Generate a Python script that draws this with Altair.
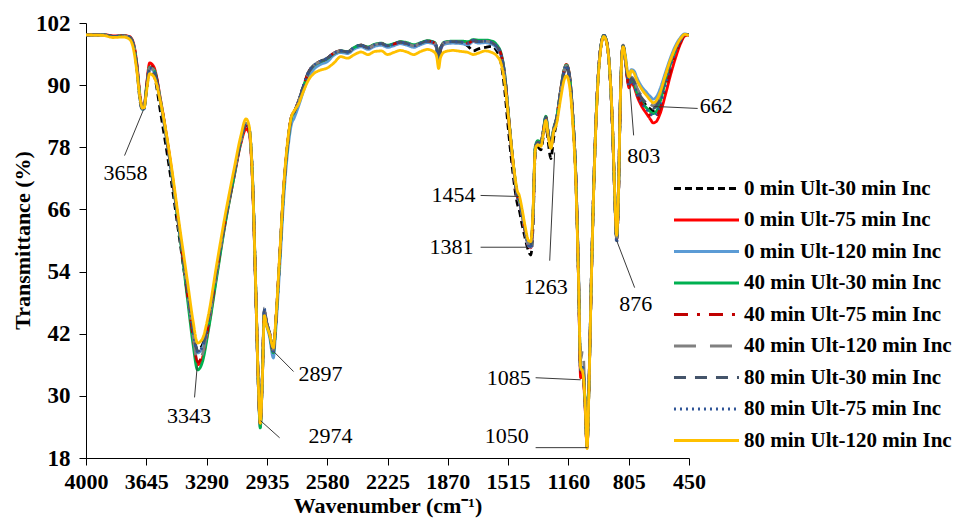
import altair as alt
import pandas as pd

wavenumber = [
    4000, 3900, 3840, 3780, 3745, 3722, 3700, 3682, 3668, 3658,
    3645, 3625, 3600, 3560, 3500, 3450, 3400, 3370, 3343, 3315,
    3280, 3230, 3180, 3130, 3090, 3058, 3040, 3020, 3000, 2985,
    2974, 2962, 2950, 2938, 2920, 2897, 2883, 2860, 2835, 2810,
    2790, 2775, 2750, 2720, 2690, 2660, 2620, 2580, 2540, 2500,
    2460, 2420, 2380, 2340, 2300, 2260, 2225, 2190, 2150, 2110,
    2070, 2030, 1990, 1950, 1935, 1924, 1913, 1890, 1840, 1790,
    1750, 1720, 1690, 1650, 1610, 1580, 1555, 1535, 1515, 1495,
    1475, 1460, 1450, 1435, 1415, 1395, 1381, 1368, 1355, 1340,
    1322, 1308, 1293, 1278, 1263, 1248, 1230, 1205, 1185, 1172,
    1155, 1135, 1115, 1100, 1088, 1075, 1062, 1050, 1040, 1025,
    1005, 985, 965, 951, 935, 915, 900, 888, 876, 866,
    855, 845, 838, 825, 812, 803, 790, 775, 755, 730,
    700, 675, 662, 645, 620, 590, 560, 530, 500, 475,
    450,
]

t_0ult_30inc = [
    99.7, 99.7, 99.4, 99.5, 99.3, 98.0, 93.0, 87.0, 85.2, 85.5,
    88.5, 93.0, 92.0, 84.5, 72.0, 60.5, 49.0, 42.5, 38.8, 39.8,
    44.5, 54.5, 64.0, 72.5, 79.0, 82.5, 81.5, 72.0, 49.5, 32.0,
    24.8, 33.5, 46.5, 44.3, 42.3, 38.6, 44.0, 56.5, 70.5, 79.5,
    83.8, 84.6, 86.8, 89.8, 92.5, 93.8, 94.6, 95.2, 96.2, 96.6,
    96.4, 97.3, 97.7, 97.2, 97.8, 98.0, 97.6, 97.9, 98.3, 98.0,
    97.6, 98.1, 98.5, 98.2, 97.2, 94.6, 97.0, 98.2, 98.4, 98.2,
    97.5, 96.6, 97.0, 97.3, 97.5, 96.5, 94.0, 89.0, 82.0, 75.5,
    70.0, 67.0, 66.0, 63.5, 60.5, 58.0, 57.2, 63.0, 77.0, 78.0,
    77.5, 80.0, 83.0, 78.8, 75.8, 79.5, 82.8, 88.5, 92.5, 93.3,
    91.5, 84.0, 70.5, 52.0, 34.8, 35.0, 28.5, 20.0, 30.5, 52.5,
    76.5, 91.5, 98.3, 99.6, 98.4, 92.0, 81.5, 69.5, 60.0, 67.5,
    86.0, 95.8, 97.5, 95.0, 91.3, 90.0, 91.0, 90.5, 88.8, 87.3,
    86.0, 85.3, 85.0, 85.3, 87.3, 90.8, 94.2, 96.8, 98.7, 99.8,
    99.7,
]

t_0ult_75inc = [
    99.8, 99.8, 99.5, 99.6, 99.4, 98.3, 94.0, 88.0, 85.6, 85.8,
    89.5, 94.3, 93.5, 87.0, 74.5, 62.0, 49.5, 41.5, 36.0, 37.3,
    43.0, 53.5, 63.5, 72.0, 78.5, 81.5, 80.8, 71.5, 49.5, 31.5,
    24.5, 33.0, 46.0, 44.0, 42.0, 38.6, 44.0, 56.5, 70.5, 79.5,
    84.0, 84.8, 86.8, 89.6, 92.3, 93.6, 94.4, 95.0, 96.0, 96.5,
    96.3, 97.2, 97.6, 97.1, 97.7, 97.9, 97.5, 97.8, 98.2, 97.9,
    97.5, 98.0, 98.4, 98.1, 97.0, 94.5, 96.8, 98.0, 98.3, 98.2,
    98.0, 98.5, 98.3, 98.4, 98.1, 97.3, 95.6, 91.8, 84.8, 77.8,
    71.8, 68.3, 67.5, 65.3, 61.8, 59.0, 58.6, 65.0, 77.8, 79.0,
    78.8, 81.0, 83.8, 80.5, 78.0, 81.2, 83.5, 89.2, 93.0, 94.0,
    92.3, 84.5, 71.0, 52.0, 33.5, 34.0, 28.0, 20.0, 30.5, 52.5,
    76.5, 91.5, 98.3, 99.6, 98.4, 92.0, 81.5, 69.5, 60.3, 67.5,
    86.0, 95.8, 97.7, 94.8, 91.0, 89.5, 90.5, 89.8, 87.8, 86.0,
    84.5, 83.3, 82.7, 82.9, 84.5, 88.0, 91.8, 95.2, 98.0, 99.5,
    99.7,
]

t_0ult_120inc = [
    99.7, 99.7, 99.4, 99.5, 99.3, 98.0, 93.3, 87.3, 85.3, 85.5,
    89.0, 93.2, 92.6, 86.3, 74.0, 62.0, 50.0, 42.8, 38.3, 39.2,
    44.3, 54.3, 64.0, 72.5, 79.0, 82.6, 81.7, 72.0, 49.5, 31.5,
    24.0, 33.0, 46.5, 43.8, 41.5, 37.3, 42.5, 54.5, 68.5, 78.0,
    82.5, 83.6, 85.8, 88.8, 91.5, 93.0, 94.0, 94.5, 95.8, 96.3,
    96.1, 97.0, 97.4, 96.9, 97.5, 97.7, 97.3, 97.6, 98.0, 97.7,
    97.3, 97.8, 98.2, 97.9, 96.9, 94.4, 96.7, 97.9, 98.1, 98.0,
    97.8, 98.4, 98.1, 98.2, 97.9, 97.1, 95.5, 91.7, 84.8, 77.8,
    71.8, 68.3, 67.6, 65.3, 61.8, 59.0, 58.7, 65.0, 77.8, 79.0,
    78.7, 81.0, 83.8, 80.5, 78.0, 81.2, 83.4, 89.0, 92.8, 93.8,
    92.0, 84.5, 71.0, 52.5, 35.0, 35.3, 29.0, 20.2, 30.5, 52.5,
    76.5, 91.5, 98.3, 99.6, 98.4, 92.0, 81.5, 69.5, 60.5, 67.8,
    86.2, 95.8, 97.7, 95.8, 92.6, 91.5, 93.0, 92.8, 91.3, 89.8,
    88.6, 87.7, 87.3, 87.6, 89.3, 92.3, 95.2, 97.6, 99.2, 99.9,
    99.7,
]

t_40ult_30inc = [
    99.7, 99.7, 99.4, 99.5, 99.3, 98.0, 93.5, 87.6, 85.4, 85.6,
    89.2, 93.5, 93.0, 86.8, 74.0, 61.5, 48.0, 40.0, 35.0, 36.5,
    42.5, 53.0, 63.3, 72.0, 78.8, 82.5, 81.6, 72.3, 50.0, 31.5,
    23.8, 33.2, 46.0, 44.0, 42.0, 38.3, 43.8, 56.3, 70.3, 79.3,
    83.8, 84.7, 86.7, 89.7, 92.4, 93.7, 94.5, 95.1, 96.1, 96.6,
    96.5, 97.3, 97.7, 97.4, 97.9, 98.1, 97.7, 98.0, 98.4, 98.2,
    97.8, 98.2, 98.6, 98.3, 97.3, 94.7, 97.1, 98.3, 98.5, 98.5,
    98.4, 98.8, 98.7, 98.7, 98.5, 97.7, 96.0, 92.2, 85.2, 78.2,
    72.2, 68.8, 68.0, 65.8, 62.2, 59.5, 59.2, 65.5, 78.2, 79.3,
    79.0, 81.3, 84.0, 80.8, 78.5, 81.5, 83.7, 89.2, 93.0, 93.9,
    92.2, 84.6, 71.2, 52.5, 35.0, 35.5, 29.0, 20.2, 30.5, 52.5,
    76.5, 91.5, 98.3, 99.6, 98.4, 92.0, 81.5, 69.5, 60.4, 67.5,
    86.0, 95.8, 97.6, 95.2, 91.6, 90.3, 91.2, 90.5, 88.4, 86.8,
    85.6, 84.8, 84.5, 84.8, 86.8, 90.5, 94.0, 96.7, 98.7, 99.8,
    99.7,
]

t_40ult_75inc = [
    99.7, 99.7, 99.4, 99.5, 99.3, 98.1, 93.7, 87.7, 85.5, 85.7,
    89.3, 93.8, 93.2, 86.8, 74.2, 61.8, 49.0, 41.5, 36.5, 37.8,
    43.5, 54.0, 63.8, 72.3, 78.8, 82.2, 81.3, 72.0, 49.8, 31.8,
    24.5, 33.3, 46.3, 44.2, 42.2, 38.6, 44.0, 56.5, 70.5, 79.5,
    84.0, 84.8, 86.8, 89.8, 92.5, 93.8, 94.6, 95.2, 96.2, 96.6,
    96.4, 97.3, 97.7, 97.2, 97.8, 98.0, 97.6, 97.9, 98.3, 98.0,
    97.6, 98.1, 98.5, 98.2, 97.2, 94.6, 97.0, 98.2, 98.4, 98.3,
    98.1, 98.6, 98.4, 98.5, 98.2, 97.4, 95.8, 92.0, 85.0, 78.0,
    72.0, 68.5, 67.8, 65.5, 62.0, 59.2, 58.8, 65.0, 77.8, 79.0,
    78.8, 81.0, 83.8, 80.5, 78.0, 81.2, 83.5, 89.0, 92.8, 93.8,
    92.0, 84.5, 71.0, 52.2, 34.5, 35.0, 28.5, 20.0, 30.5, 52.5,
    76.5, 91.5, 98.3, 99.6, 98.4, 92.0, 81.5, 69.5, 60.2, 67.5,
    86.0, 95.8, 97.6, 94.9, 91.2, 89.8, 90.8, 90.2, 88.3, 86.5,
    85.2, 84.0, 83.5, 83.7, 85.5, 89.0, 92.5, 95.8, 98.3, 99.6,
    99.7,
]

t_40ult_120inc = [
    99.7, 99.7, 99.4, 99.5, 99.3, 98.0, 93.4, 87.5, 85.4, 85.6,
    89.0, 93.4, 92.9, 86.6, 74.2, 62.0, 49.5, 41.8, 36.7, 38.0,
    43.8, 54.0, 64.0, 72.5, 79.0, 82.6, 81.7, 72.3, 50.0, 32.0,
    24.6, 33.5, 46.5, 44.3, 42.3, 38.6, 44.0, 56.5, 70.5, 79.5,
    84.0, 84.8, 86.8, 89.8, 92.5, 93.8, 94.6, 95.2, 96.2, 96.6,
    96.4, 97.3, 97.7, 97.2, 97.8, 98.0, 97.6, 97.9, 98.3, 98.0,
    97.6, 98.1, 98.5, 98.2, 97.2, 94.6, 97.0, 98.2, 98.4, 98.3,
    98.1, 98.6, 98.4, 98.5, 98.2, 97.4, 95.8, 92.0, 85.0, 78.0,
    72.0, 68.5, 67.8, 65.5, 62.0, 59.3, 59.0, 65.2, 77.8, 79.0,
    78.8, 81.0, 83.8, 80.5, 78.0, 81.2, 83.5, 89.0, 92.8, 93.8,
    92.0, 84.5, 71.5, 54.0, 37.0, 39.0, 30.0, 20.3, 30.5, 52.5,
    76.5, 91.5, 98.3, 99.6, 98.4, 92.0, 81.5, 69.5, 60.4, 67.5,
    86.0, 95.8, 97.6, 95.0, 91.7, 90.5, 91.6, 91.1, 89.4, 88.0,
    86.9, 86.3, 86.0, 86.3, 88.2, 91.5, 94.6, 97.0, 98.8, 99.8,
    99.7,
]

t_80ult_30inc = [
    99.7, 99.7, 99.4, 99.5, 99.3, 98.0, 93.5, 87.5, 85.3, 85.5,
    89.0, 93.3, 92.8, 86.5, 74.0, 62.0, 50.0, 42.8, 38.6, 39.5,
    44.5, 54.5, 64.0, 72.5, 79.0, 82.7, 81.8, 72.5, 50.0, 32.0,
    24.6, 33.5, 47.0, 44.5, 42.3, 38.6, 44.0, 56.5, 70.5, 79.5,
    84.0, 84.8, 86.8, 89.8, 92.5, 93.8, 94.6, 95.2, 96.2, 96.6,
    96.4, 97.3, 97.7, 97.2, 97.8, 98.0, 97.6, 97.9, 98.3, 98.0,
    97.6, 98.1, 98.5, 98.2, 97.2, 94.6, 97.0, 98.2, 98.4, 98.3,
    98.1, 98.7, 98.4, 98.5, 98.2, 97.4, 95.8, 92.0, 85.0, 78.0,
    72.0, 68.5, 67.8, 65.5, 62.0, 59.2, 58.8, 65.0, 77.8, 79.0,
    78.8, 81.0, 83.8, 80.5, 78.0, 81.2, 83.5, 89.0, 92.8, 93.8,
    92.0, 84.5, 71.0, 52.5, 35.0, 35.5, 29.0, 20.2, 30.5, 52.5,
    76.5, 91.5, 98.3, 99.6, 98.4, 92.0, 81.5, 69.5, 60.2, 67.5,
    86.0, 95.8, 97.6, 95.0, 91.5, 90.2, 91.3, 90.8, 89.0, 87.6,
    86.5, 85.8, 85.5, 85.8, 87.8, 91.2, 94.5, 97.0, 98.8, 99.8,
    99.7,
]

t_80ult_75inc = [
    99.7, 99.7, 99.4, 99.5, 99.3, 98.0, 93.4, 87.4, 85.2, 85.4,
    89.0, 93.3, 92.7, 86.4, 74.0, 62.0, 50.0, 42.7, 38.5, 39.4,
    44.5, 54.5, 64.0, 72.5, 79.0, 82.6, 81.7, 72.3, 50.0, 32.0,
    24.6, 33.5, 46.8, 44.4, 42.3, 38.6, 44.0, 56.5, 70.5, 79.5,
    84.0, 84.8, 86.8, 89.8, 92.5, 93.8, 94.6, 95.2, 96.2, 96.6,
    96.4, 97.3, 97.7, 97.2, 97.8, 98.0, 97.6, 97.9, 98.3, 98.0,
    97.6, 98.1, 98.5, 98.2, 97.2, 94.6, 97.0, 98.2, 98.4, 98.3,
    98.1, 98.7, 98.4, 98.5, 98.2, 97.4, 95.8, 92.0, 85.0, 78.0,
    72.0, 68.3, 67.5, 65.3, 62.0, 59.0, 58.5, 65.0, 77.8, 79.0,
    78.8, 81.0, 83.8, 80.5, 78.0, 81.2, 83.5, 89.0, 92.8, 93.8,
    92.0, 84.5, 71.0, 52.5, 35.0, 35.5, 29.0, 20.2, 30.5, 52.5,
    76.5, 91.5, 98.3, 99.6, 98.4, 92.0, 81.5, 69.5, 59.5, 67.3,
    86.0, 95.8, 97.6, 94.9, 91.2, 89.8, 90.8, 90.2, 88.2, 86.6,
    85.3, 84.5, 84.0, 84.3, 86.2, 89.8, 93.5, 96.5, 98.6, 99.8,
    99.7,
]

t_80ult_120inc = [
    99.7, 99.6, 99.2, 99.3, 98.9, 97.2, 92.5, 87.5, 85.6, 85.6,
    88.5, 92.2, 91.6, 86.5, 75.0, 63.0, 51.5, 44.5, 40.2, 41.0,
    45.5, 55.5, 65.0, 73.5, 80.0, 83.5, 82.2, 72.0, 50.0, 32.0,
    24.7, 33.0, 45.5, 43.8, 42.0, 39.3, 44.5, 57.0, 71.0, 80.0,
    84.0, 85.0, 86.3, 88.8, 91.0, 92.2, 92.9, 93.3, 94.3, 95.5,
    95.2, 95.9, 96.4, 95.9, 96.5, 96.6, 95.9, 96.3, 96.7, 96.4,
    95.9, 96.5, 96.9, 96.4, 95.4, 93.2, 95.3, 96.4, 96.7, 96.5,
    96.3, 95.9, 96.2, 96.6, 96.3, 95.6, 94.0, 90.5, 84.5, 78.0,
    72.5, 69.5, 68.8, 66.5, 62.8, 60.0, 59.8, 66.0, 77.5, 78.5,
    78.2, 80.5, 83.2, 80.0, 77.8, 80.8, 82.5, 87.5, 91.0, 91.8,
    90.2, 83.0, 70.0, 52.0, 35.5, 34.5, 29.0, 19.8, 30.0, 52.0,
    76.0, 91.0, 98.0, 99.4, 98.2, 92.0, 82.0, 70.0, 61.0, 68.0,
    86.0, 95.5, 97.4, 95.5, 92.5, 91.6, 92.8, 92.4, 90.8, 89.3,
    88.0, 87.0, 86.6, 86.9, 88.6, 91.8, 94.8, 97.2, 99.0, 99.8,
    99.6,
]

series_names = [
    "0 min Ult-30 min Inc", "0 min Ult-75 min Inc", "0 min Ult-120 min Inc",
    "40 min Ult-30 min Inc", "40 min Ult-75 min Inc", "40 min Ult-120 min Inc",
    "80 min Ult-30 min Inc", "80 min Ult-75 min Inc", "80 min Ult-120 min Inc",
]
series_values = [
    t_0ult_30inc, t_0ult_75inc, t_0ult_120inc,
    t_40ult_30inc, t_40ult_75inc, t_40ult_120inc,
    t_80ult_30inc, t_80ult_75inc, t_80ult_120inc,
]
series_colors = ["#000000", "#FF0000", "#5B9BD5", "#00B050", "#C00000",
                 "#808080", "#44546A", "#2F5597", "#FFC000"]
series_dashes = [[7, 4], [1, 0], [1, 0], [1, 0], [14, 9, 3, 9],
                 [22, 14], [12, 9], [2, 4], [1, 0]]
series_widths = [2.8, 2.8, 4.0, 3.3, 2.8, 4.0, 3.3, 2.8, 4.0]

x_ticks = [4000, 3645, 3290, 2935, 2580, 2225, 1870, 1515, 1160, 805, 450]
y_ticks = [18, 30, 42, 54, 66, 78, 90, 102]

ann_labels = ["3658", "3343", "2974", "2897", "1454", "1381", "1263",
              "1085", "1050", "876", "803", "662"]
ann_x = [3767, 3394, 2560, 2619, 1707, 1719, 1294, 1382, 1394, 764, 717, 387]
ann_y = [73.0, 26.2, 22.3, 34.3, 68.7, 58.7, 51.1, 33.5, 22.3, 47.8, 76.4, 85.9]
ann_align = ["center", "center", "center", "center", "right", "right", "center",
             "right", "right", "center", "center", "left"]

lead_x1 = [3773, 3361, 2860, 2778, 1677, 1677, 1270, 1353, 1353, 876, 799, 658]
lead_y1 = [76.4, 29.7, 21.9, 34.7, 68.7, 58.7, 56.1, 33.5, 20.0, 60.0, 90.0, 85.9]
lead_x2 = [3661, 3345, 2972, 2890, 1453, 1400, 1241, 1088, 1047, 770, 776, 399]
lead_y2 = [85.3, 35.8, 25.2, 38.4, 68.5, 58.7, 77.0, 33.1, 20.0, 50.9, 80.3, 85.5]

for v in series_values:
    assert len(v) == len(wavenumber)

rows = []
for name, vals in zip(series_names, series_values):
    for w, t in zip(wavenumber, vals):
        rows.append({"series": name, "wn": w, "T": t})
spectra = pd.DataFrame(rows)

ann = pd.DataFrame({"label": ann_labels, "x": ann_x, "y": ann_y, "align": ann_align})
leads = pd.DataFrame({"x1": lead_x1, "y1": lead_y1, "x2": lead_x2, "y2": lead_y2})

SERIF = "Liberation Serif"

x_scale = alt.Scale(domain=[450, 4000], reverse=True, nice=False, zero=False)
y_scale = alt.Scale(domain=[18, 102], nice=False, zero=False)

legend = alt.Legend(
    title=None, orient="none", legendX=608, legendY=153,
    symbolType="M-3,0L3,0", symbolSize=470, symbolStrokeWidth=3,
    labelFont=SERIF, labelFontSize=21, labelFontWeight="bold", labelColor="#000000",
    labelOffset=25, rowPadding=8.5, labelLimit=400,
)

lines = alt.Chart(spectra).mark_line(interpolate="monotone", clip=True).encode(
    x=alt.X("wn:Q", scale=x_scale,
            axis=alt.Axis(values=x_ticks, title="Wavenumber (cm⁻¹)", format="d",
                          labelFontSize=22, labelFlush=False, labelPadding=6,
                          titleY=47, titleBaseline="middle")),
    y=alt.Y("T:Q", scale=y_scale,
            axis=alt.Axis(values=y_ticks, title="Transmittance (%)", format="d",
                          labelFontSize=23, labelPadding=9,
                          titleX=-64, titleY=217, titleAngle=270,
                          titleAlign="center", titleBaseline="middle")),
    color=alt.Color("series:N", scale=alt.Scale(domain=series_names, range=series_colors),
                    legend=legend),
    strokeDash=alt.StrokeDash("series:N", scale=alt.Scale(domain=series_names, range=series_dashes),
                              legend=legend),
    strokeWidth=alt.StrokeWidth("series:N", scale=alt.Scale(domain=series_names, range=series_widths),
                                legend=None),
    order=alt.Order("wn:Q", sort="descending"),
)

rules = alt.Chart(leads).mark_rule(color="#3a3a3a", strokeWidth=1).encode(
    x=alt.X("x1:Q", scale=x_scale), y=alt.Y("y1:Q", scale=y_scale),
    x2="x2:Q", y2="y2:Q",
)

texts = [
    alt.Chart(ann[ann["align"] == a]).mark_text(
        font=SERIF, fontSize=22, color="#000000", align=a, baseline="middle"
    ).encode(
        x=alt.X("x:Q", scale=x_scale), y=alt.Y("y:Q", scale=y_scale), text="label:N"
    )
    for a in ["center", "right", "left"]
]

chart = alt.layer(lines, rules, *texts).properties(
    width=603, height=435,
    autosize=alt.AutoSizeParams(type="none"),
    padding={"left": 78, "top": 15, "right": 265, "bottom": 61},
).configure_view(stroke=None).configure_axis(
    grid=False, domainColor="#000000", tickColor="#000000", tickSize=7,
    labelFont=SERIF, labelFontWeight="bold", labelColor="#000000",
    titleFont=SERIF, titleFontSize=22, titleFontWeight="bold", titleColor="#000000",
)

chart.save("out.html", embed_options={"renderer": "svg", "actions": False})
